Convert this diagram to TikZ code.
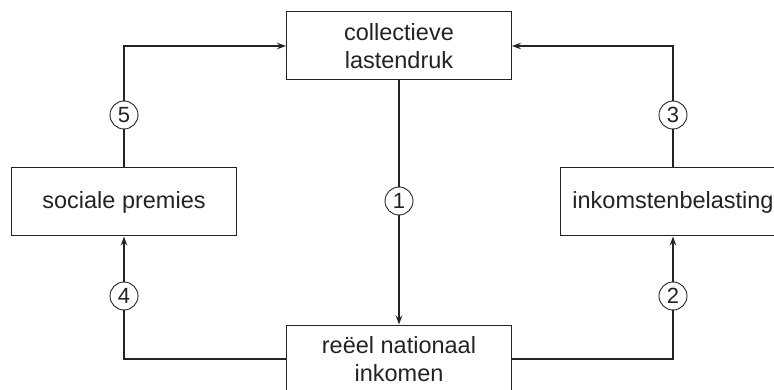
\documentclass[tikz,border=0pt]{standalone}
\usepackage{fontspec}
\setmainfont{Liberation Sans}
\usetikzlibrary{arrows.meta}
\definecolor{ink}{HTML}{232323}
\begin{document}
\begin{tikzpicture}[x=1pt,y=-1pt,
  box/.style={draw=ink,line width=1pt,minimum width=225pt,minimum height=68pt,inner sep=0pt,align=center,text=ink,font=\fontsize{23.5}{28.3}\selectfont},
  conn/.style={draw=ink,line width=1.5pt,-{Stealth[length=9pt,width=6.5pt]}},
  num/.style={circle,draw=ink,line width=0.9pt,fill=white,minimum size=28pt,inner sep=0pt,text=ink,font=\fontsize{22}{22}\selectfont}]
\useasboundingbox (0,0) rectangle (774,390);
\clip (0,0) rectangle (774,390);
\node[box] (top) at (399,46) {collectieve\\lastendruk};
\node[box] (left) at (124,202) {sociale premies};
\node[box] (right) at (673,202) {inkomstenbelasting};
\node[box] (bot) at (399,359) {reëel nationaal\\inkomen};
\draw[conn] (bot.west) -| (left.south);
\draw[conn] (left.north) |- (top.west);
\draw[conn] (right.north) |- (top.east);
\draw[conn] (bot.east) -| (right.south);
\draw[conn] (top.south) -- (bot.north);
\node[num] (n5) at (124,115) {5};
\node[num] (n3) at (673,115) {3};
\node[num] (n1) at (399,201) {1};
\node[num] (n4) at (124,296) {4};
\node[num] (n2) at (673,296) {2};
\end{tikzpicture}
\end{document}
